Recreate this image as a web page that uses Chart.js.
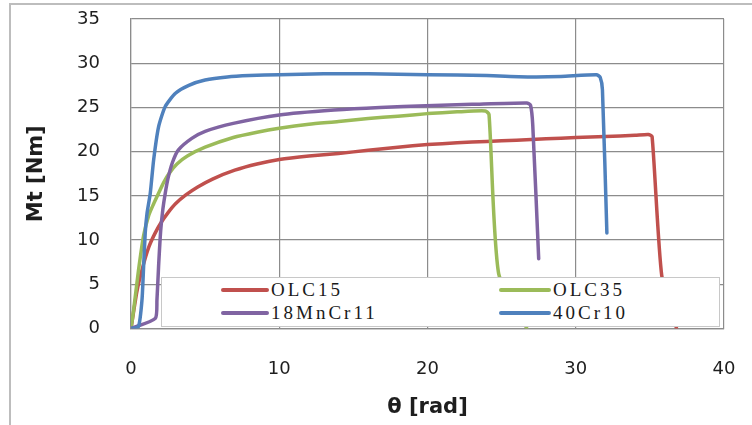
<!DOCTYPE html>
<html>
<head>
<meta charset="utf-8">
<script src="https://cdn.jsdelivr.net/npm/chart.js@4"></script>
<style>
  html, body { margin: 0; padding: 0; background: #ffffff; }
  #wrap { position: relative; width: 752px; height: 425px; overflow: hidden; }
  #marco { position: absolute; left: 9px; top: 3px; width: 900px; height: 600px; border: 2px solid #bdbdbd; box-sizing: border-box; }
  #grafico { position: absolute; left: 0; top: 0; }
  #leyenda { position: absolute; left: 161px; top: 277px; width: 559px; height: 50px; background: #ffffff; border: 1px solid #c8c8c8; box-sizing: border-box; }
  .item { position: absolute; height: 22px; display: flex; align-items: center; }
  .item span.linea { display: inline-block; height: 4px; border-radius: 2px; }
  .item span.txt { font-family: "Liberation Serif", serif; font-size: 19px; letter-spacing: 3px; color: #1a1a1a; margin-left: 2px; }
</style>
</head>
<body>
<div id="wrap">
  <div id="marco"></div>
  <canvas id="grafico" width="752" height="425"></canvas>
  <div id="leyenda"></div>
</div>
<script>
// Series: theta [rad] y Mt [Nm]
const olc15X = [0, 0.4, 0.8, 1.2, 1.6, 2.0, 2.5, 3.0, 3.7, 4.5, 5.5, 7, 8.5, 10, 12, 14, 16, 18, 20, 22, 24, 26, 28, 30, 32, 34, 34.9, 35.15, 35.8, 36.8];
const olc15Y = [0, 4.2, 7.0, 9.2, 10.7, 11.9, 13.1, 14.1, 15.1, 16.0, 16.9, 17.9, 18.6, 19.1, 19.5, 19.8, 20.15, 20.5, 20.8, 21.0, 21.15, 21.3, 21.45, 21.6, 21.7, 21.85, 21.95, 21.7, 6.0, 0];

const olc35X = [0, 0.17, 0.5, 0.85, 1.2, 1.5, 1.86, 2.2, 2.6, 3.1, 3.8, 5, 6.9, 8.5, 10, 12, 14, 16, 18, 20, 22, 23.9, 24.15, 24.8, 26.7];
const olc35Y = [0, 2, 6.5, 10.5, 12.8, 14.0, 15.3, 16.5, 17.6, 18.6, 19.5, 20.5, 21.6, 22.2, 22.65, 23.1, 23.4, 23.75, 24.0, 24.3, 24.5, 24.6, 24.2, 6.2, 0];

const mncrX = [0, 1.64, 1.75, 1.86, 2.0, 2.15, 2.31, 2.5, 2.8, 3.2, 4.1, 5, 6.9, 10, 13.7, 16.8, 19.9, 23, 26.7, 26.95, 27.1, 27.5];
const mncrY = [0, 1.15, 3.2, 7, 11, 13.5, 15.3, 17.0, 18.8, 20.2, 21.5, 22.3, 23.2, 24.15, 24.7, 25.0, 25.2, 25.35, 25.5, 25.25, 23, 7.9];

const cr10X = [0, 0.5, 0.74, 0.85, 0.96, 1.08, 1.3, 1.53, 1.86, 2.31, 3.0, 3.9, 5, 6.5, 8, 10, 13, 16, 20, 24, 27, 29, 31.4, 31.65, 31.8, 32.1];
const cr10Y = [0, 0.2, 3.2, 7, 10.8, 13, 15.3, 19.1, 22.8, 25.1, 26.6, 27.5, 28.1, 28.45, 28.6, 28.7, 28.8, 28.8, 28.7, 28.6, 28.45, 28.5, 28.7, 28.4, 27, 10.8];

const nombres = ['OLC15', 'OLC35', '18MnCr11', '40Cr10'];
const colores = ['#c0504d', '#9bbb59', '#8064a2', '#4f81bd'];
const xTicks = [0, 10, 20, 30, 40];
const yTicks = [0, 5, 10, 15, 20, 25, 30, 35];

function puntos(xs, ys) {
    return xs.map((x, i) => ({ x: x, y: ys[i] }));
}

const series = [puntos(olc15X, olc15Y), puntos(olc35X, olc35Y), puntos(mncrX, mncrY), puntos(cr10X, cr10Y)];

// orden de dibujo: el azul queda encima como en el original
const datasets = series.map((d, i) => ({
    label: nombres[i],
    data: d,
    showLine: true,
    borderColor: colores[i],
    backgroundColor: colores[i],
    borderWidth: 3.5,
    pointRadius: 0,
    tension: 0.2,
    borderJoinStyle: 'round',
    borderCapStyle: 'round',
    fill: false,
    order: 4 - i
}));

const fuenteTicks = { family: '"DejaVu Sans", sans-serif', size: 18 };
const fuenteTitulo = { family: '"DejaVu Sans", sans-serif', size: 21, weight: 'bold' };

new Chart(document.getElementById('grafico'), {
    type: 'scatter',
    data: { datasets: datasets },
    options: {
        responsive: false,
        animation: false,
        layout: { padding: { left: 0, top: 19, right: 28, bottom: 0 } },
        plugins: { legend: { display: false }, tooltip: { enabled: false } },
        scales: {
            x: {
                type: 'linear',
                min: 0, max: 40,
                afterBuildTicks: (s) => { s.ticks = xTicks.map(v => ({ value: v })); },
                afterFit: (s) => { s.height = 96.5; s.paddingLeft = 0; s.paddingRight = 0; },
                grid: { color: '#8c8c8c', lineWidth: 1.2, drawTicks: false },
                border: { color: '#8c8c8c', width: 1.2 },
                ticks: { padding: 30, color: '#1e1e1e', font: fuenteTicks, maxRotation: 0 },
                title: { display: true, text: 'θ [rad]', color: '#1e1e1e', font: fuenteTitulo, padding: { top: 0, bottom: 5 } }
            },
            y: {
                type: 'linear',
                min: 0, max: 35,
                afterBuildTicks: (s) => { s.ticks = yTicks.map(v => ({ value: v })); },
                afterFit: (s) => { s.width = 131; s.paddingTop = 0; s.paddingBottom = 0; },
                grid: { color: '#8c8c8c', lineWidth: 1.2, drawTicks: false },
                border: { color: '#8c8c8c', width: 1.2 },
                ticks: { padding: 31, color: '#1e1e1e', font: fuenteTicks },
                title: { display: true, text: 'Mt [Nm]', color: '#1e1e1e', font: fuenteTitulo, padding: { top: 24, bottom: 0 } }
            }
        }
    }
});

// Leyenda dentro del area del grafico (dos columnas, como en Excel)
const leyenda = document.getElementById('leyenda');
const posItems = [[59, 1], [337, 1], [59, 24], [337, 24]];
nombres.forEach((n, i) => {
    const it = document.createElement('div');
    it.className = 'item';
    it.style.left = posItems[i][0] + 'px';
    it.style.top = posItems[i][1] + 'px';
    it.innerHTML = `<span class="linea" style="width:${i % 2 ? 52 : 48}px;background:${colores[i]}"></span><span class="txt">${n}</span>`;
    leyenda.appendChild(it);
});
</script>
</body>
</html>
